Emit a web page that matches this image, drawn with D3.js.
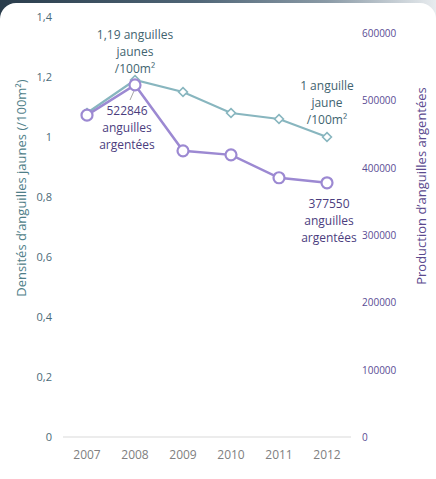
<!DOCTYPE html>
<html>
<head>
<meta charset="utf-8">
<script src="https://cdn.jsdelivr.net/npm/d3@7"></script>
<style>
  html, body { margin: 0; padding: 0; background: #fff; }
  svg { display: block; font-family: "Open Sans", sans-serif; }
</style>
</head>
<body>
<svg id="chart" width="436" height="479"></svg>
<script>
// data
const years = ["2007", "2008", "2009", "2010", "2011", "2012"];
const densiteJaunes = [1.08, 1.19, 1.15, 1.08, 1.06, 1.0];
const productionArgentees = [478000, 522846, 425000, 419000, 385000, 377550];
const leftTicks = [0, 0.2, 0.4, 0.6, 0.8, 1, 1.2, 1.4];
const rightTicks = [0, 100000, 200000, 300000, 400000, 500000, 600000];

const svg = d3.select("#chart");
const W = 436, H = 479;

// background strip + card
const defs = svg.append("defs");
const grad = defs.append("linearGradient").attr("id", "topgrad");
grad.append("stop").attr("offset", "0%").attr("stop-color", "#2a3d4c");
grad.append("stop").attr("offset", "45%").attr("stop-color", "#506677");
grad.append("stop").attr("offset", "75%").attr("stop-color", "#8a9aa6");
grad.append("stop").attr("offset", "100%").attr("stop-color", "#e8ecef");
svg.append("rect").attr("width", W).attr("height", 20).attr("fill", "url(#topgrad)");
svg.append("rect").attr("x", 0).attr("y", 3).attr("width", W).attr("height", H + 20)
    .attr("rx", 16).attr("fill", "#fff");

// scales
const x = d3.scaleBand().domain(years).range([63, 351]);
const yL = d3.scaleLinear().domain([0, 1.4]).range([437, 17]);
const yR = d3.scaleLinear().domain([0, 600000]).range([437, 33]);
const fmtL = d => d3.format(".1f")(d).replace(".", ",").replace(/,0$/, "");

// baseline
svg.append("line")
    .attr("x1", 63).attr("x2", 351)
    .attr("y1", yL(0)).attr("y2", yL(0))
    .attr("stroke", "#d9d9d9").attr("stroke-width", 1);

// left axis labels
svg.append("g").selectAll("text").data(leftTicks).enter().append("text")
    .attr("x", 52).attr("y", d => yL(d) + 4)
    .attr("text-anchor", "end")
    .attr("font-size", 11)
    .attr("fill", "#4b6b78")
    .text(fmtL);

// right axis labels
svg.append("g").selectAll("text").data(rightTicks).enter().append("text")
    .attr("x", 362).attr("y", d => yR(d) + 4)
    .attr("text-anchor", "start")
    .attr("font-size", 10)
    .attr("fill", "#5a4c94")
    .text(d => d);

// x axis labels
svg.append("g").selectAll("text").data(years).enter().append("text")
    .attr("x", d => x(d) + x.bandwidth() / 2).attr("y", 459)
    .attr("text-anchor", "middle")
    .attr("font-size", 12)
    .attr("fill", "#808080")
    .text(d => d);

// axis titles
svg.append("text")
    .attr("transform", "translate(26,188) rotate(-90)")
    .attr("text-anchor", "middle")
    .attr("font-size", 13)
    .attr("fill", "#4f7e88")
    .text("Densités d’anguilles jaunes (/100m²)");
svg.append("text")
    .attr("transform", "translate(426,186) rotate(-90)")
    .attr("text-anchor", "middle")
    .attr("font-size", 13)
    .attr("fill", "#5b4a8e")
    .text("Production d’anguilles argentées");

const cx = d => x(d) + x.bandwidth() / 2;

// teal series
const teal = "#88b6bf";
svg.append("path")
    .datum(densiteJaunes)
    .attr("d", d3.line().x((d, i) => cx(years[i])).y(d => yL(d)))
    .attr("fill", "none").attr("stroke", teal).attr("stroke-width", 2.2);

// purple series
const purple = "#9c89d2";
svg.append("path")
    .datum(productionArgentees)
    .attr("d", d3.line().x((d, i) => cx(years[i])).y(d => yR(d)))
    .attr("fill", "none").attr("stroke", purple).attr("stroke-width", 2.5);

// teal markers (diamonds)
svg.append("g").selectAll("path").data(densiteJaunes).enter().append("path")
    .attr("d", d3.symbol().type(d3.symbolDiamond2).size(50))
    .attr("transform", (d, i) => `translate(${cx(years[i])},${yL(d)})`)
    .attr("fill", "#fff").attr("stroke", teal).attr("stroke-width", 1.6);

// leader line for 2008 label
svg.append("line")
    .attr("x1", cx("2008") - 1).attr("y1", yR(productionArgentees[1]) + 6)
    .attr("x2", cx("2008") - 5).attr("y2", 100)
    .attr("stroke", "#a6a6a6").attr("stroke-width", 1);

// purple markers (circles)
svg.append("g").selectAll("circle").data(productionArgentees).enter().append("circle")
    .attr("cx", (d, i) => cx(years[i])).attr("cy", d => yR(d))
    .attr("r", 5.5)
    .attr("fill", "#fff").attr("stroke", purple).attr("stroke-width", 2.2);

// annotations
function note(lines, px, py, color) {
    const t = svg.append("text")
        .attr("text-anchor", "middle")
        .attr("font-size", 12)
        .attr("fill", color);
    lines.forEach((l, i) => {
        t.append("tspan").attr("x", px).attr("y", py + i * 17).text(l);
    });
}
note(["1,19 anguilles", "jaunes", "/100m²"], 135, 39, "#3f6470");
note(["522846", "anguilles", "argentées"], 127, 115, "#4b3d7e");
note(["1 anguille", "jaune", "/100m²"], 327, 90, "#3f6470");
note(["377550", "anguilles", "argentées"], 329, 208, "#4b3d7e");
</script>
</body>
</html>
